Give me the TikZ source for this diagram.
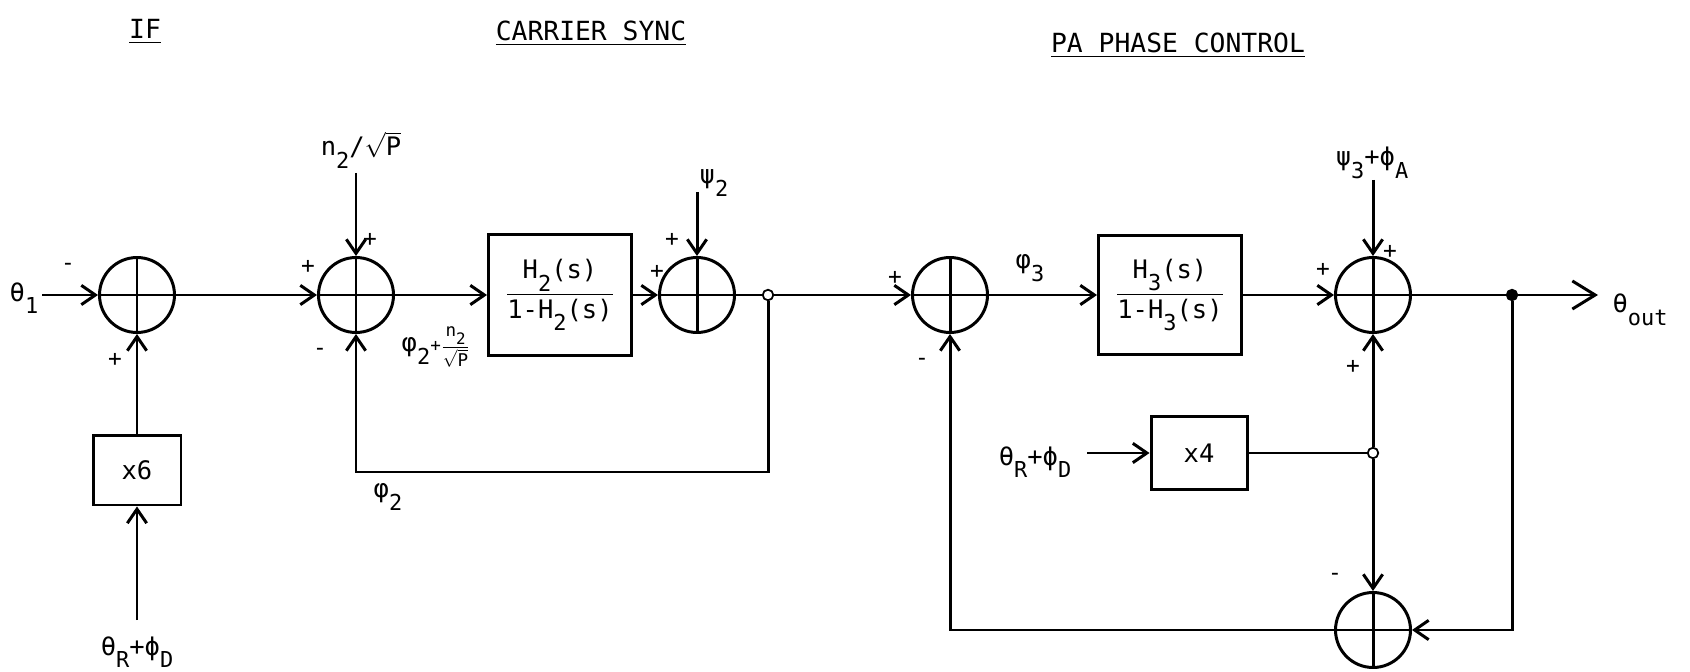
\documentclass[tikz,border=0pt]{standalone}
\usepackage{amsmath}
\usepackage{fontspec}
\setmainfont{DejaVu Sans Mono}
\usepackage{tikz}
\usetikzlibrary{arrows.meta,calc}

% dropped subscript, typewriter style
\newcommand{\dn}[2][12.5]{\raisebox{-0.9ex}{\fontsize{#1}{#1}\selectfont #2}}

\begin{document}
\begin{tikzpicture}[x=0.02cm, y=-0.02cm, line width=1.7pt,
    >={Straight Barb[length=8pt,width=11pt]},
    every node/.style={font=\fontsize{14.5}{17}\selectfont},
    sumnode/.style={circle, draw, minimum size=1.5cm, inner sep=0pt,
      path picture={\draw[line width=1.7pt]
        (path picture bounding box.north) -- (path picture bounding box.south)
        (path picture bounding box.west) -- (path picture bounding box.east);}},
    blockbox/.style={draw, inner sep=0pt, align=center},
    sgn/.style={font=\fontsize{13}{13}\selectfont, inner sep=0pt},
    heading/.style={font=\fontsize{15}{18}\selectfont, anchor=base},
    tap/.style={circle, draw, fill=white, line width=1pt, inner sep=0pt, minimum size=6pt},
    tapfill/.style={tap, fill=black},
  ]
  \useasboundingbox (0,0) rectangle (1690,672);

  % Section headings
  \node[heading] (hdif) at (145,39) {\underline{IF}};
  \node[heading] (hdcs) at (591,41) {\underline{CARRIER SYNC}};
  \node[heading] (hdpa) at (1178,53) {\underline{PA PHASE CONTROL}};

  % Summing junctions (all on the main line y=295, s6 below)
  \node[sumnode] (s1) at (137,295) {};
  \node[sumnode] (s2) at (356,295) {};
  \node[sumnode] (s3) at (697,295) {};
  \node[sumnode] (s4) at (950,295) {};
  \node[sumnode] (s5) at (1373,295) {};
  \node[sumnode] (s6) at (1373,630) {};

  % Blocks
  \node[blockbox, minimum width=1.76cm, minimum height=1.4cm] (x6) at (137,470) {x6};
  \node[blockbox, minimum width=2.86cm, minimum height=2.42cm] (h2) at (560,295)
    {$\dfrac{\text{H\dn{2}(s)}}{\text{1-H\dn{2}(s)}}$};
  \node[blockbox, minimum width=2.86cm, minimum height=2.38cm] (h3) at (1170,295)
    {$\dfrac{\text{H\dn{3}(s)}}{\text{1-H\dn{3}(s)}}$};
  \node[blockbox, minimum width=1.92cm, minimum height=1.46cm] (x4) at (1199,453) {x4};

  % Branch points
  \node[tap] (j1) at (768,295) {};
  \node[tap] (j2) at (1373,453) {};
  \node[tapfill] (j3) at (1512,295) {};

  % Free ends of the connectors
  \coordinate (in1) at (42,295);
  \coordinate (in6) at (137,620);
  \coordinate (in2) at (356,173);
  \coordinate (in3) at (697,192);
  \coordinate (in5) at (1373,180);
  \coordinate (in4) at (1087,453);
  \coordinate (fb2) at (768,472);
  \coordinate (out) at (1598,295);

  % --- Signal labels ---
  \node (th1) at (24,298) {θ\dn{1}};
  \node (ref6) at (137,652) {θ\dn{R}+ϕ\dn{D}};
  \node (noise2) at (361,150) {n\dn{2}/$\sqrt{\text{P}}$};
  \node[inner sep=0pt] (mix2) at (436,347) {φ\dn{2}{\fontsize{10}{10}\selectfont
    +$\dfrac{\text{n\dn[9]{2}}}{\sqrt{\text{P}}}$}};
  \node (psi2) at (714,183) {ψ\dn{2}};
  \node (phi2) at (388,497) {φ\dn{2}};
  \node (phi3) at (1030,268) {φ\dn{3}};
  \node (psi3) at (1372,163) {ψ\dn{3}+ϕ\dn{A}};
  \node (ref4) at (1035,462) {θ\dn{R}+ϕ\dn{D}};
  \node (thout) at (1640,310) {θ\dn{out}};

  % --- Signs at the summer inputs ---
  \foreach \pos/\sg [count=\k] in {{(68,267)}/-, {(115,360)}/+,
      {(308,267)}/+, {(370,240)}/+, {(320,352)}/-,
      {(657,272)}/+, {(672,240)}/+,
      {(895,278)}/+, {(922,362)}/-,
      {(1323,270)}/+, {(1390,252)}/+, {(1353,367)}/+,
      {(1335,577)}/-}
    \node[sgn] (sign\k) at \pos {\sg};

  % --- Connectors ---
  \draw[->] (in1) -- (s1.west);
  \draw[->] (in6) -- (x6.south);
  \draw[->] (x6.north) -- (s1.south);
  \draw[->] (s1.east) -- (s2.west);
  \draw[->] (in2) -- (s2.north);
  \draw[->] (s2.east) -- (h2.west);
  \draw[->] (h2.east) -- (s3.west);
  \draw[->] (in3) -- (s3.north);
  \draw (s3.east) -- (j1);
  \draw[->] (j1) -- (s4.west);
  \draw[->] (j1) -- (fb2) -| (s2.south);    % carrier loop feedback
  \draw[->] (s4.east) -- (h3.west);
  \draw[->] (h3.east) -- (s5.west);
  \draw[->] (in5) -- (s5.north);
  \draw (s5.east) -- (j3);
  \draw[-{Straight Barb[length=13pt,width=16pt]}] (j3) -- (out);
  \draw[->] (in4) -- (x4.west);
  \draw (x4.east) -- (j2);
  \draw[->] (j2) -- (s5.south);
  \draw[->] (j2) -- (s6.north);
  \draw[->] (j3) |- (s6.east);
  \draw[->] (s6.west) -| (s4.south);         % PA loop feedback
\end{tikzpicture}
\end{document}
